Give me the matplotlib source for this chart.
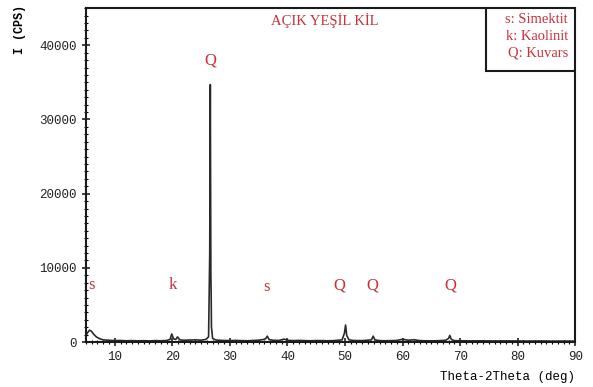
import matplotlib
matplotlib.use("Agg")
import matplotlib.pyplot as plt
from matplotlib.patches import Rectangle
from matplotlib.ticker import MultipleLocator

# --- data ---
two_theta = [5.0, 5.3, 5.6, 5.9, 6.3, 6.8, 7.4, 8.0, 9.0, 10.0,
             11.0, 12.0, 13.0, 14.0, 15.0, 16.0, 17.0, 18.0, 19.0, 19.6,
             19.9, 20.2, 20.6, 20.9, 21.3, 22.0, 23.0, 24.0, 25.0, 25.8,
             26.3, 26.5, 26.6, 26.7, 26.75, 26.8, 27.0, 27.5, 28.0, 29.0,
             30.0, 31.0, 32.0, 33.0, 34.0, 35.0, 35.8, 36.2, 36.5, 36.8,
             37.5, 38.5, 39.4, 40.0, 41.0, 42.0, 43.0, 44.0, 45.0, 46.0,
             47.0, 48.0, 49.5, 49.9, 50.1, 50.3, 50.7, 51.5, 53.0, 54.6,
             54.9, 55.2, 56.0, 57.0, 58.0, 59.0, 60.0, 61.0, 62.0, 63.0,
             64.0, 65.0, 66.0, 67.5, 68.0, 68.2, 68.5, 69.0, 70.0, 72.0,
             74.0, 76.0, 78.0, 80.0, 82.0, 84.0, 86.0, 88.0, 90.0]
intensity = [900, 1300, 1600, 1500, 1100, 700, 450, 300, 250, 200,
             220, 180, 200, 170, 190, 160, 200, 180, 220, 350,
             1100, 450, 350, 700, 300, 250, 280, 300, 260, 350,
             700, 12000, 34700, 9000, 6300, 2000, 500, 300, 250, 220,
             200, 230, 200, 180, 220, 260, 350, 450, 800, 350,
             250, 220, 400, 250, 200, 230, 200, 180, 210, 200,
             180, 200, 300, 1200, 2300, 900, 300, 220, 200, 300,
             800, 300, 200, 180, 200, 220, 380, 250, 320, 200,
             180, 170, 180, 250, 500, 900, 350, 200, 180, 160,
             170, 150, 160, 150, 140, 150, 130, 140, 130]

peak_labels = ["s", "k", "Q", "s", "Q", "Q", "Q"]
label_x = [6.0, 20.0, 26.6, 36.4, 49.1, 54.8, 68.3]
label_y = [6600, 6600, 36800, 6300, 6600, 6600, 6600]

legend_lines = ["s: Simektit", "k: Kaolinit", "Q: Kuvars"]
title = "AÇIK YEŞİL KİL"

red = "#c8323c"
mono = "Liberation Mono"
serif = "Liberation Serif"

fig = plt.figure(figsize=(5.93, 3.87), dpi=100)
ax = fig.add_axes([0.145, 0.116, 0.825, 0.863])

ax.plot(two_theta, intensity, color="#2a2a2a", lw=1.2)

ax.set_xlim(5, 90)
ax.set_ylim(0, 45000)
ax.xaxis.set_major_locator(MultipleLocator(10))
ax.xaxis.set_minor_locator(MultipleLocator(1))
ax.yaxis.set_major_locator(MultipleLocator(10000))
ax.yaxis.set_minor_locator(MultipleLocator(1000))
ax.set_xticks(range(10, 91, 10))
ax.tick_params(which="major", direction="inout", length=6, width=1.2,
               labelsize=9, colors="#222222")
ax.tick_params(which="minor", direction="inout", length=3, width=0.8)
for lab in ax.get_xticklabels() + ax.get_yticklabels():
    lab.set_family(mono)
for sp in ax.spines.values():
    sp.set_linewidth(1.5)
    sp.set_color("#1a1a1a")

ax.text(-0.135, 1.01, "I (CPS)", transform=ax.transAxes, rotation=90,
        ha="center", va="top", family=mono, fontsize=8.5, fontweight="bold")
fig.text(0.97, 0.01, "Theta-2Theta (deg)", ha="right", va="bottom",
         family=mono, fontsize=9)

for lab, x, y in zip(peak_labels, label_x, label_y):
    ax.text(x, y, lab, color=red, family=serif, fontsize=12,
            ha="center", va="bottom")

ax.text(46.4, 43400, title, color=red, family=serif, fontsize=10.5,
        ha="center", va="center")

ax.add_patch(Rectangle((0.818, 0.811), 0.182, 0.189, transform=ax.transAxes,
                       fill=True, facecolor="white", edgecolor="#1a1a1a",
                       lw=1.5, zorder=3))
ax.text(0.985, 0.985, "\n".join(legend_lines), transform=ax.transAxes,
        color=red, family=serif, fontsize=10.5, ha="right", va="top",
        multialignment="right", linespacing=1.35, zorder=4)

fig.savefig("out.png", dpi=100)
